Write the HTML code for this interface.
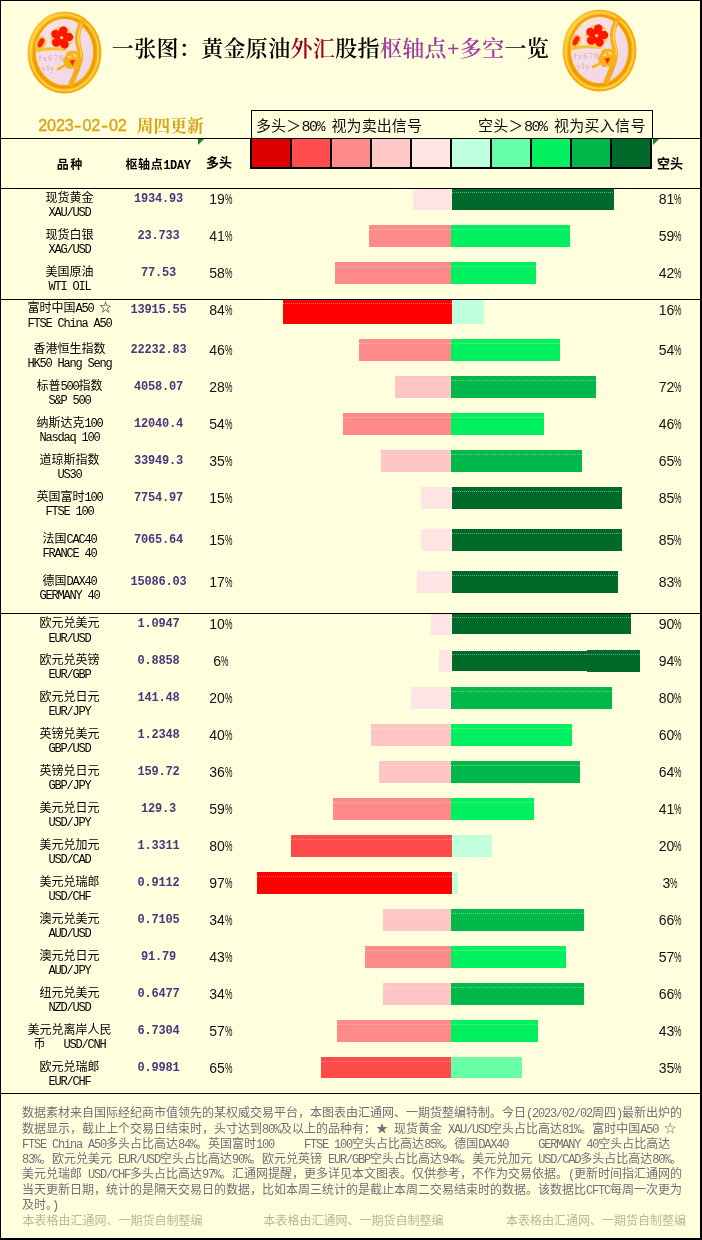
<!DOCTYPE html>
<html lang="zh-CN">
<head>
<meta charset="utf-8">
<title>一张图：黄金原油外汇股指枢轴点+多空一览</title>
<style>
html,body{margin:0;padding:0;}
body{width:702px;height:1240px;overflow:hidden;background:#ffffdd;}
#pg{position:relative;width:702px;height:1240px;background:#ffffdd;overflow:hidden;
 font-family:"Liberation Mono","Noto Sans CJK SC",monospace;font-size:12px;color:#000;}
#pg div{position:absolute;white-space:nowrap;}
.bd{background:#000;}
.hl{left:1px;width:699px;height:1px;background:#000;}
.ttl{left:111.8px;top:32px;height:34px;line-height:34px;font-family:"Liberation Serif","Noto Serif CJK SC",serif;font-weight:600;font-size:22px;letter-spacing:0.34px;color:#000;}
.date{top:113px;height:24px;line-height:24px;color:#d9a214;}
.dd{left:38.2px;top:112.5px;font-size:16.2px;font-family:"Liberation Sans",sans-serif;-webkit-text-stroke:0.35px #d9a214;}
.dd i{font-style:normal;display:inline-block;width:8.85px;text-align:center;}
.dd b{font-weight:normal;display:inline-block;transform:scaleX(1.35);}
.dc{left:136.8px;top:115px;font-size:16.75px;font-weight:700;font-family:"Liberation Serif","Noto Serif CJK SC",serif;}
.lgt{top:117.5px;height:20px;line-height:20px;font-size:15px;font-family:"Liberation Mono","Noto Sans CJK SC",monospace;font-weight:400;color:#111;}
.lgt .l{letter-spacing:-1.5px;}
.lg{top:139px;width:38px;height:28px;}
.hd{top:157px;height:18px;line-height:18px;font-weight:bold;font-size:12px;font-family:"Liberation Mono","Noto Sans CJK SC",monospace;}
.hd .l{letter-spacing:-0.4px;}
.bar{}
.bar i{position:absolute;left:0;right:0;height:1px;background:repeating-linear-gradient(90deg,rgba(255,255,225,.42) 0,rgba(255,255,225,.42) 1px,transparent 1px,transparent 2px);}
.dk i{background:repeating-linear-gradient(90deg,rgba(150,215,215,.6) 0,rgba(150,215,215,.6) 1px,transparent 1px,transparent 2px);}
.nm{left:1px;width:137px;height:15px;line-height:15px;text-align:center;font-size:12px;}
.l{letter-spacing:-1.2px;}
.pv{left:118.5px;width:80px;height:14px;line-height:14px;text-align:center;font-family:"Liberation Mono",monospace;font-weight:bold;font-size:12px;letter-spacing:-0.2px;color:#4d357c;}
.pl,.pr{width:40px;height:16px;line-height:16px;text-align:center;font-family:"Liberation Sans",sans-serif;font-size:14px;color:#111;}
.pc{display:inline-block;width:7.4px;transform:scaleX(.6);transform-origin:0 50%;text-align:left;}
.pl{left:200.8px;}
.pr{left:650.2px;}
.ft{left:22px;height:15px;line-height:15px;font-size:12px;color:#707078;}
.wm{top:1214.5px;height:15px;line-height:15px;font-size:12px;color:#bdb596;}
.tri{width:0;height:0;border-top:6px solid #118822;border-right:6px solid transparent;}
</style>
</head>
<body>
<div id="pg">
<!-- frame -->
<div class="bd" style="left:0;top:0;width:702px;height:1px"></div>
<div class="bd" style="left:0;top:0;width:1px;height:1240px"></div>
<div class="bd" style="left:700px;top:0;width:2px;height:1240px"></div>
<div class="bd" style="left:0;top:1238px;width:702px;height:2px"></div>
<!-- logos -->
<svg style="position:absolute;left:26px;top:10px" width="78" height="86" viewBox="0 0 78 86">
<defs>
<linearGradient id="gLa" x1="0" y1="0" x2="1" y2="1"><stop offset="0" stop-color="#ffd24a"/><stop offset=".45" stop-color="#f7a600"/><stop offset="1" stop-color="#f2b418"/></linearGradient>
<linearGradient id="gLb" x1="0" y1="0" x2="1" y2="1"><stop offset="0" stop-color="#fbe2e3"/><stop offset="1" stop-color="#efd5e6"/></linearGradient>
<filter id="fL" x="-5%" y="-5%" width="110%" height="110%"><feGaussianBlur stdDeviation=".55"/></filter>
</defs>
<g filter="url(#fL)">
<ellipse cx="38.5" cy="42.5" rx="37" ry="41" fill="url(#gLa)"/>
<ellipse cx="38.5" cy="42.5" rx="34" ry="38" fill="none" stroke="#ffd95e" stroke-width="1.6" opacity=".8"/>
<ellipse cx="38.5" cy="42.5" rx="30.6" ry="35" fill="none" stroke="#e88f00" stroke-width="1.6" opacity=".8"/>
<ellipse cx="38.5" cy="42" rx="28.6" ry="33" fill="url(#gLb)"/>
<!-- branches -->
<path d="M56 12 C52.5 19 50.5 26 52 33 C53.5 40 55.5 44 54 50 C52.5 58 48.5 66 45 74" fill="none" stroke="#f4ad14" stroke-width="5.2" stroke-linecap="round"/>
<path d="M54 20 C52 26 52.5 32 54 37 C55.5 42 56 46 54.5 51" fill="none" stroke="#fcd04f" stroke-width="1.6" stroke-linecap="round"/>
<path d="M55.5 14 C53 21 51.5 27 52.5 33" fill="none" stroke="#ffd95e" stroke-width="1.2" stroke-linecap="round"/>
<path d="M11 41 C18 38.5 25 38 39 39.5" fill="none" stroke="#f7c233" stroke-width="3" stroke-linecap="round"/>
<path d="M46 50 C41 54 37 57 32 59" fill="none" stroke="#f5b21a" stroke-width="2.6" stroke-linecap="round"/>
<!-- bud left -->
<ellipse cx="14.5" cy="33" rx="5.2" ry="7" fill="#f9c23a" transform="rotate(28 14.5 33)"/>
<ellipse cx="15" cy="32.8" rx="2.6" ry="5" fill="#ff1a0a" transform="rotate(28 15 32.8)"/>
<!-- main flower -->
<circle cx="35.7" cy="27.7" r="11.4" fill="#fbcf5e" opacity=".95"/>
<circle cx="35.7" cy="27.7" r="9" fill="#fff0d8" opacity=".9"/>
<g fill="#ff1505"><path transform="translate(35.7 27.7) rotate(8)" d="M0 -0.6 C-5 -3.6 -5.4 -10.4 0.6 -11.6 C6.4 -10.8 6 -4.4 1.3 -0.9Z"/><path transform="translate(35.7 27.7) rotate(80)" d="M0 -0.6 C-5 -3.6 -5.4 -10.4 0.6 -11.6 C6.4 -10.8 6 -4.4 1.3 -0.9Z"/><path transform="translate(35.7 27.7) rotate(152)" d="M0 -0.6 C-5 -3.6 -5.4 -10.4 0.6 -11.6 C6.4 -10.8 6 -4.4 1.3 -0.9Z"/><path transform="translate(35.7 27.7) rotate(224)" d="M0 -0.6 C-5 -3.6 -5.4 -10.4 0.6 -11.6 C6.4 -10.8 6 -4.4 1.3 -0.9Z"/><path transform="translate(35.7 27.7) rotate(296)" d="M0 -0.6 C-5 -3.6 -5.4 -10.4 0.6 -11.6 C6.4 -10.8 6 -4.4 1.3 -0.9Z"/></g>
<circle cx="35.7" cy="27.7" r="1.6" fill="#ffd96a"/>
<!-- gold flower -->
<path d="M46.5 41 C50.5 40 54 42.5 53.5 46 C57 48 57 53 53.5 55 C53.5 59 49 60 46.5 58 C43.5 60 39 58.5 39.5 55 C36 52.5 36.5 48 40 46 C39.5 42.5 43.5 40 46.5 41Z" fill="#f6b21a"/>
<path d="M46.5 43.5 C49.5 43 51.5 44.5 51 47 C48.5 47.5 47 46.5 46.5 43.5Z M41.5 47.5 C42.5 45 45 44.5 46 46.5 C45.5 48.5 43.5 49 41.5 47.5Z" fill="#ffd95e"/>
<path d="M43.6 50.6 L49.4 49.8 L46.4 56Z" fill="#ff2a10"/>
</g>
<text x="12.6" y="51.3" font-family="Liberation Serif, serif" font-weight="bold" font-size="9.2" letter-spacing=".9" fill="#d9b3cb" opacity=".85">fx678</text>
<text x="15.4" y="61.2" font-family="Liberation Serif, serif" font-weight="bold" font-size="9.2" letter-spacing=".7" fill="#d9b3cb" opacity=".85">yly</text>
</svg>
<svg style="position:absolute;left:561.3px;top:8px" width="78" height="86" viewBox="0 0 78 86">
<defs>
<linearGradient id="gRa" x1="0" y1="0" x2="1" y2="1"><stop offset="0" stop-color="#ffd24a"/><stop offset=".45" stop-color="#f7a600"/><stop offset="1" stop-color="#f2b418"/></linearGradient>
<linearGradient id="gRb" x1="0" y1="0" x2="1" y2="1"><stop offset="0" stop-color="#fbe2e3"/><stop offset="1" stop-color="#efd5e6"/></linearGradient>
<filter id="fR" x="-5%" y="-5%" width="110%" height="110%"><feGaussianBlur stdDeviation=".55"/></filter>
</defs>
<g filter="url(#fR)">
<ellipse cx="38.5" cy="42.5" rx="37" ry="41" fill="url(#gRa)"/>
<ellipse cx="38.5" cy="42.5" rx="34" ry="38" fill="none" stroke="#ffd95e" stroke-width="1.6" opacity=".8"/>
<ellipse cx="38.5" cy="42.5" rx="30.6" ry="35" fill="none" stroke="#e88f00" stroke-width="1.6" opacity=".8"/>
<ellipse cx="38.5" cy="42" rx="28.6" ry="33" fill="url(#gRb)"/>
<!-- branches -->
<path d="M56 12 C52.5 19 50.5 26 52 33 C53.5 40 55.5 44 54 50 C52.5 58 48.5 66 45 74" fill="none" stroke="#f4ad14" stroke-width="5.2" stroke-linecap="round"/>
<path d="M54 20 C52 26 52.5 32 54 37 C55.5 42 56 46 54.5 51" fill="none" stroke="#fcd04f" stroke-width="1.6" stroke-linecap="round"/>
<path d="M55.5 14 C53 21 51.5 27 52.5 33" fill="none" stroke="#ffd95e" stroke-width="1.2" stroke-linecap="round"/>
<path d="M11 41 C18 38.5 25 38 39 39.5" fill="none" stroke="#f7c233" stroke-width="3" stroke-linecap="round"/>
<path d="M46 50 C41 54 37 57 32 59" fill="none" stroke="#f5b21a" stroke-width="2.6" stroke-linecap="round"/>
<!-- bud left -->
<ellipse cx="14.5" cy="33" rx="5.2" ry="7" fill="#f9c23a" transform="rotate(28 14.5 33)"/>
<ellipse cx="15" cy="32.8" rx="2.6" ry="5" fill="#ff1a0a" transform="rotate(28 15 32.8)"/>
<!-- main flower -->
<circle cx="35.7" cy="27.7" r="11.4" fill="#fbcf5e" opacity=".95"/>
<circle cx="35.7" cy="27.7" r="9" fill="#fff0d8" opacity=".9"/>
<g fill="#ff1505"><path transform="translate(35.7 27.7) rotate(8)" d="M0 -0.6 C-5 -3.6 -5.4 -10.4 0.6 -11.6 C6.4 -10.8 6 -4.4 1.3 -0.9Z"/><path transform="translate(35.7 27.7) rotate(80)" d="M0 -0.6 C-5 -3.6 -5.4 -10.4 0.6 -11.6 C6.4 -10.8 6 -4.4 1.3 -0.9Z"/><path transform="translate(35.7 27.7) rotate(152)" d="M0 -0.6 C-5 -3.6 -5.4 -10.4 0.6 -11.6 C6.4 -10.8 6 -4.4 1.3 -0.9Z"/><path transform="translate(35.7 27.7) rotate(224)" d="M0 -0.6 C-5 -3.6 -5.4 -10.4 0.6 -11.6 C6.4 -10.8 6 -4.4 1.3 -0.9Z"/><path transform="translate(35.7 27.7) rotate(296)" d="M0 -0.6 C-5 -3.6 -5.4 -10.4 0.6 -11.6 C6.4 -10.8 6 -4.4 1.3 -0.9Z"/></g>
<circle cx="35.7" cy="27.7" r="1.6" fill="#ffd96a"/>
<!-- gold flower -->
<path d="M46.5 41 C50.5 40 54 42.5 53.5 46 C57 48 57 53 53.5 55 C53.5 59 49 60 46.5 58 C43.5 60 39 58.5 39.5 55 C36 52.5 36.5 48 40 46 C39.5 42.5 43.5 40 46.5 41Z" fill="#f6b21a"/>
<path d="M46.5 43.5 C49.5 43 51.5 44.5 51 47 C48.5 47.5 47 46.5 46.5 43.5Z M41.5 47.5 C42.5 45 45 44.5 46 46.5 C45.5 48.5 43.5 49 41.5 47.5Z" fill="#ffd95e"/>
<path d="M43.6 50.6 L49.4 49.8 L46.4 56Z" fill="#ff2a10"/>
</g>
<text x="12.6" y="51.3" font-family="Liberation Serif, serif" font-weight="bold" font-size="9.2" letter-spacing=".9" fill="#d9b3cb" opacity=".85">fx678</text>
<text x="15.4" y="61.2" font-family="Liberation Serif, serif" font-weight="bold" font-size="9.2" letter-spacing=".7" fill="#d9b3cb" opacity=".85">yly</text>
</svg>
<!-- title -->
<div class="ttl">一张图：黄金原油<span style="color:#990022">外汇</span>股指<span style="color:#a040a0">枢轴点+多空</span>一览</div>
<!-- date -->
<div class="date dd"><i>2</i><i>0</i><i>2</i><i>3</i><i><b>-</b></i><i>0</i><i>2</i><i><b>-</b></i><i>0</i><i>2</i></div>
<div class="date dc">周四更新</div>
<!-- legend box -->
<div style="left:251px;top:110px;width:400px;height:28px;border:1px solid #000;border-bottom:none;"></div>
<div class="lgt" style="left:256px;letter-spacing:0.12px">多头＞<span class="l">80% </span>视为卖出信号</div>
<div class="lgt" style="left:478px;letter-spacing:0.3px">空头＞<span class="l">80% </span>视为买入信号</div>
<div class="bd" style="left:250px;top:138px;width:402px;height:31px"></div>
<div class="lg" style="left:252px;background:#dd0000"></div>
<div class="lg" style="left:292px;background:#ff4c4c"></div>
<div class="lg" style="left:332px;background:#ff8c8c"></div>
<div class="lg" style="left:372px;background:#ffc8c8"></div>
<div class="lg" style="left:412px;background:#ffe4e4"></div>
<div class="lg" style="left:452px;background:#bfffdf"></div>
<div class="lg" style="left:492px;background:#66ffa8"></div>
<div class="lg" style="left:532px;background:#00f060"></div>
<div class="lg" style="left:572px;background:#00b84a"></div>
<div class="lg" style="left:612px;background:#006a2b"></div>
<!-- lines -->
<div class="hl" style="top:138px"></div>
<div class="hl" style="top:188px"></div>
<div class="hl" style="top:299px"></div>
<div class="hl" style="top:613px"></div>
<div class="hl" style="top:1093px"></div>
<div class="tri" style="left:198px;top:139px"></div>
<div class="tri" style="left:653px;top:139px"></div>
<!-- header -->
<div class="hd" style="left:1px;width:138.5px;text-align:center;letter-spacing:1.5px">品种</div>
<div class="hd" style="left:120px;width:76px;text-align:center;letter-spacing:0.6px">枢轴点<span class="l">1DAY</span></div>
<div class="hd" style="left:199px;width:40px;text-align:center;font-size:13px;top:154.5px">多头</div>
<div class="hd" style="left:650px;width:40px;text-align:center;font-size:13px;top:155.5px">空头</div>
<!-- rows -->
<div class="bar" style="left:413px;top:189px;width:39px;height:21px;background:#ffe4e4"><i style="top:3px"></i></div>
<div class="bar dk" style="left:452px;top:189px;width:162px;height:21px;background:#006a2b"><i style="top:3px"></i></div>
<div class="nm" style="top:191.8px">现货黄金</div>
<div class="nm" style="top:206.3px"><span class="l">XAU/USD</span></div>
<div class="pv" style="top:192.1px">1934.93</div>
<div class="pl" style="top:191.1px">19<span class="pc">%</span></div>
<div class="pr" style="top:191.1px">81<span class="pc">%</span></div>
<div class="bar" style="left:369px;top:225px;width:82px;height:22px;background:#ff8a8a"><i style="top:4px"></i></div>
<div class="bar" style="left:451px;top:225px;width:119px;height:22px;background:#00f060"><i style="top:4px"></i></div>
<div class="nm" style="top:228.7px">现货白银</div>
<div class="nm" style="top:243.2px"><span class="l">XAG/USD</span></div>
<div class="pv" style="top:229.0px">23.733</div>
<div class="pl" style="top:228.0px">41<span class="pc">%</span></div>
<div class="pr" style="top:228.0px">59<span class="pc">%</span></div>
<div class="bar" style="left:335px;top:262px;width:116px;height:22px;background:#ff8a8a"><i style="top:4px"></i></div>
<div class="bar" style="left:451px;top:262px;width:85px;height:22px;background:#00f060"><i style="top:4px"></i></div>
<div class="nm" style="top:265.7px">美国原油</div>
<div class="nm" style="top:280.2px"><span class="l">WTI OIL</span></div>
<div class="pv" style="top:266.0px">77.53</div>
<div class="pl" style="top:265.0px">58<span class="pc">%</span></div>
<div class="pr" style="top:265.0px">42<span class="pc">%</span></div>
<div class="bar" style="left:283px;top:300px;width:169px;height:24px;background:#ff0000"><i style="top:3px"></i></div>
<div class="bar" style="left:452px;top:300px;width:32px;height:24px;background:#bfffdc"><i style="top:3px"></i></div>
<div class="nm" style="top:302.3px">富时中国<span class="l">A50 </span>☆</div>
<div class="nm" style="top:316.8px"><span class="l">FTSE China A50</span></div>
<div class="pv" style="top:302.6px">13915.55</div>
<div class="pl" style="top:301.6px">84<span class="pc">%</span></div>
<div class="pr" style="top:301.6px">16<span class="pc">%</span></div>
<div class="bar" style="left:359px;top:339px;width:92px;height:22px;background:#ff8a8a"><i style="top:4px"></i></div>
<div class="bar" style="left:451px;top:339px;width:109px;height:22px;background:#00f060"><i style="top:4px"></i></div>
<div class="nm" style="top:342.7px">香港恒生指数</div>
<div class="nm" style="top:357.2px"><span class="l">HK50 Hang Seng</span></div>
<div class="pv" style="top:343.0px">22232.83</div>
<div class="pl" style="top:342.0px">46<span class="pc">%</span></div>
<div class="pr" style="top:342.0px">54<span class="pc">%</span></div>
<div class="bar" style="left:395px;top:376px;width:56px;height:22px;background:#ffc4c4"><i style="top:4px"></i></div>
<div class="bar" style="left:451px;top:376px;width:145px;height:22px;background:#00b84a"><i style="top:4px"></i></div>
<div class="nm" style="top:379.7px">标普<span class="l">500</span>指数</div>
<div class="nm" style="top:394.2px"><span class="l">S&amp;P 500</span></div>
<div class="pv" style="top:380.0px">4058.07</div>
<div class="pl" style="top:379.0px">28<span class="pc">%</span></div>
<div class="pr" style="top:379.0px">72<span class="pc">%</span></div>
<div class="bar" style="left:343px;top:413px;width:108px;height:22px;background:#ff8a8a"><i style="top:4px"></i></div>
<div class="bar" style="left:451px;top:413px;width:93px;height:22px;background:#00f060"><i style="top:4px"></i></div>
<div class="nm" style="top:416.7px">纳斯达克<span class="l">100</span></div>
<div class="nm" style="top:431.2px"><span class="l">Nasdaq 100</span></div>
<div class="pv" style="top:417.0px">12040.4</div>
<div class="pl" style="top:416.0px">54<span class="pc">%</span></div>
<div class="pr" style="top:416.0px">46<span class="pc">%</span></div>
<div class="bar" style="left:381px;top:450px;width:70px;height:22px;background:#ffc4c4"><i style="top:4px"></i></div>
<div class="bar" style="left:451px;top:450px;width:131px;height:22px;background:#00b84a"><i style="top:4px"></i></div>
<div class="nm" style="top:453.7px">道琼斯指数</div>
<div class="nm" style="top:468.2px"><span class="l">US30</span></div>
<div class="pv" style="top:454.0px">33949.3</div>
<div class="pl" style="top:453.0px">35<span class="pc">%</span></div>
<div class="pr" style="top:453.0px">65<span class="pc">%</span></div>
<div class="bar" style="left:421px;top:487px;width:31px;height:22px;background:#ffe4e4"><i style="top:4px"></i></div>
<div class="bar dk" style="left:452px;top:487px;width:170px;height:22px;background:#006a2b"><i style="top:4px"></i></div>
<div class="nm" style="top:490.7px">英国富时<span class="l">100</span></div>
<div class="nm" style="top:505.2px"><span class="l">FTSE 100</span></div>
<div class="pv" style="top:491.0px">7754.97</div>
<div class="pl" style="top:490.0px">15<span class="pc">%</span></div>
<div class="pr" style="top:490.0px">85<span class="pc">%</span></div>
<div class="bar" style="left:421px;top:529px;width:31px;height:22px;background:#ffe4e4"><i style="top:4px"></i></div>
<div class="bar dk" style="left:452px;top:529px;width:170px;height:22px;background:#006a2b"><i style="top:4px"></i></div>
<div class="nm" style="top:532.7px">法国<span class="l">CAC40</span></div>
<div class="nm" style="top:547.2px"><span class="l">FRANCE 40</span></div>
<div class="pv" style="top:533.0px">7065.64</div>
<div class="pl" style="top:532.0px">15<span class="pc">%</span></div>
<div class="pr" style="top:532.0px">85<span class="pc">%</span></div>
<div class="bar" style="left:417px;top:571px;width:35px;height:22px;background:#ffe4e4"><i style="top:4px"></i></div>
<div class="bar dk" style="left:452px;top:571px;width:166px;height:22px;background:#006a2b"><i style="top:4px"></i></div>
<div class="nm" style="top:574.7px">德国<span class="l">DAX40</span></div>
<div class="nm" style="top:589.2px"><span class="l">GERMANY 40</span></div>
<div class="pv" style="top:575.0px">15086.03</div>
<div class="pl" style="top:574.0px">17<span class="pc">%</span></div>
<div class="pr" style="top:574.0px">83<span class="pc">%</span></div>
<div class="bar" style="left:431px;top:614px;width:21px;height:21px;background:#ffe4e4"><i style="top:3px"></i></div>
<div class="bar dk" style="left:452px;top:614px;width:179px;height:20px;background:#006a2b"><i style="top:3px"></i></div>
<div class="nm" style="top:617.1px">欧元兑美元</div>
<div class="nm" style="top:631.6px"><span class="l">EUR/USD</span></div>
<div class="pv" style="top:617.4px">1.0947</div>
<div class="pl" style="top:616.4px">10<span class="pc">%</span></div>
<div class="pr" style="top:616.4px">90<span class="pc">%</span></div>
<div class="bar" style="left:439px;top:650px;width:13px;height:22px;background:#ffe4e4"><i style="top:4px"></i></div>
<div class="bar dk" style="left:452px;top:651px;width:188px;height:20px;background:#006a2b"><i style="top:3px"></i></div>
<div class="bar dk" style="left:587px;top:650px;width:53px;height:22px;background:#006a2b"><i style="top:4px"></i></div>
<div class="nm" style="top:653.7px">欧元兑英镑</div>
<div class="nm" style="top:668.2px"><span class="l">EUR/GBP</span></div>
<div class="pv" style="top:654.0px">0.8858</div>
<div class="pl" style="top:653.0px">6<span class="pc">%</span></div>
<div class="pr" style="top:653.0px">94<span class="pc">%</span></div>
<div class="bar" style="left:411px;top:687px;width:40px;height:22px;background:#ffe4e4"><i style="top:4px"></i></div>
<div class="bar" style="left:451px;top:687px;width:161px;height:22px;background:#00b84a"><i style="top:4px"></i></div>
<div class="nm" style="top:690.7px">欧元兑日元</div>
<div class="nm" style="top:705.2px"><span class="l">EUR/JPY</span></div>
<div class="pv" style="top:691.0px">141.48</div>
<div class="pl" style="top:690.0px">20<span class="pc">%</span></div>
<div class="pr" style="top:690.0px">80<span class="pc">%</span></div>
<div class="bar" style="left:371px;top:724px;width:80px;height:22px;background:#ffc4c4"><i style="top:4px"></i></div>
<div class="bar" style="left:451px;top:724px;width:121px;height:22px;background:#00f060"><i style="top:4px"></i></div>
<div class="nm" style="top:727.7px">英镑兑美元</div>
<div class="nm" style="top:742.2px"><span class="l">GBP/USD</span></div>
<div class="pv" style="top:728.0px">1.2348</div>
<div class="pl" style="top:727.0px">40<span class="pc">%</span></div>
<div class="pr" style="top:727.0px">60<span class="pc">%</span></div>
<div class="bar" style="left:379px;top:761px;width:72px;height:22px;background:#ffc4c4"><i style="top:4px"></i></div>
<div class="bar" style="left:451px;top:761px;width:129px;height:22px;background:#00b84a"><i style="top:4px"></i></div>
<div class="nm" style="top:764.7px">英镑兑日元</div>
<div class="nm" style="top:779.2px"><span class="l">GBP/JPY</span></div>
<div class="pv" style="top:765.0px">159.72</div>
<div class="pl" style="top:764.0px">36<span class="pc">%</span></div>
<div class="pr" style="top:764.0px">64<span class="pc">%</span></div>
<div class="bar" style="left:333px;top:798px;width:118px;height:22px;background:#ff8a8a"><i style="top:4px"></i></div>
<div class="bar" style="left:451px;top:798px;width:83px;height:22px;background:#00f060"><i style="top:4px"></i></div>
<div class="nm" style="top:801.7px">美元兑日元</div>
<div class="nm" style="top:816.2px"><span class="l">USD/JPY</span></div>
<div class="pv" style="top:802.0px">129.3</div>
<div class="pl" style="top:801.0px">59<span class="pc">%</span></div>
<div class="pr" style="top:801.0px">41<span class="pc">%</span></div>
<div class="bar" style="left:291px;top:835px;width:161px;height:22px;background:#ff4a4a"><i style="top:4px"></i></div>
<div class="bar" style="left:452px;top:835px;width:40px;height:22px;background:#bfffdc"><i style="top:4px"></i></div>
<div class="nm" style="top:838.7px">美元兑加元</div>
<div class="nm" style="top:853.2px"><span class="l">USD/CAD</span></div>
<div class="pv" style="top:839.0px">1.3311</div>
<div class="pl" style="top:838.0px">80<span class="pc">%</span></div>
<div class="pr" style="top:838.0px">20<span class="pc">%</span></div>
<div class="bar" style="left:257px;top:872px;width:195px;height:22px;background:#ff0000"><i style="top:4px"></i></div>
<div class="bar" style="left:452px;top:872px;width:6px;height:22px;background:#bfffdc"><i style="top:4px"></i></div>
<div class="nm" style="top:875.7px">美元兑瑞郎</div>
<div class="nm" style="top:890.2px"><span class="l">USD/CHF</span></div>
<div class="pv" style="top:876.0px">0.9112</div>
<div class="pl" style="top:875.0px">97<span class="pc">%</span></div>
<div class="pr" style="top:875.0px">3<span class="pc">%</span></div>
<div class="bar" style="left:383px;top:909px;width:68px;height:22px;background:#ffc4c4"><i style="top:4px"></i></div>
<div class="bar" style="left:451px;top:909px;width:133px;height:22px;background:#00b84a"><i style="top:4px"></i></div>
<div class="nm" style="top:912.7px">澳元兑美元</div>
<div class="nm" style="top:927.2px"><span class="l">AUD/USD</span></div>
<div class="pv" style="top:913.0px">0.7105</div>
<div class="pl" style="top:912.0px">34<span class="pc">%</span></div>
<div class="pr" style="top:912.0px">66<span class="pc">%</span></div>
<div class="bar" style="left:365px;top:946px;width:86px;height:22px;background:#ff8a8a"><i style="top:4px"></i></div>
<div class="bar" style="left:451px;top:946px;width:115px;height:22px;background:#00f060"><i style="top:4px"></i></div>
<div class="nm" style="top:949.7px">澳元兑日元</div>
<div class="nm" style="top:964.2px"><span class="l">AUD/JPY</span></div>
<div class="pv" style="top:950.0px">91.79</div>
<div class="pl" style="top:949.0px">43<span class="pc">%</span></div>
<div class="pr" style="top:949.0px">57<span class="pc">%</span></div>
<div class="bar" style="left:383px;top:983px;width:68px;height:22px;background:#ffc4c4"><i style="top:4px"></i></div>
<div class="bar" style="left:451px;top:983px;width:133px;height:22px;background:#00b84a"><i style="top:4px"></i></div>
<div class="nm" style="top:986.7px">纽元兑美元</div>
<div class="nm" style="top:1001.2px"><span class="l">NZD/USD</span></div>
<div class="pv" style="top:987.0px">0.6477</div>
<div class="pl" style="top:986.0px">34<span class="pc">%</span></div>
<div class="pr" style="top:986.0px">66<span class="pc">%</span></div>
<div class="bar" style="left:337px;top:1020px;width:114px;height:22px;background:#ff8a8a"><i style="top:4px"></i></div>
<div class="bar" style="left:451px;top:1020px;width:87px;height:22px;background:#00f060"><i style="top:4px"></i></div>
<div class="nm" style="top:1023.7px">美元兑离岸人民</div>
<div class="nm" style="top:1038.2px">币<span class="l">&nbsp;&nbsp;&nbsp;USD/CNH</span></div>
<div class="pv" style="top:1024.0px">6.7304</div>
<div class="pl" style="top:1023.0px">57<span class="pc">%</span></div>
<div class="pr" style="top:1023.0px">43<span class="pc">%</span></div>
<div class="bar" style="left:321px;top:1057px;width:130px;height:21px;background:#ff4a4a"><i style="top:4px"></i></div>
<div class="bar" style="left:451px;top:1057px;width:71px;height:21px;background:#66ffa6"><i style="top:4px"></i></div>
<div class="nm" style="top:1060.7px">欧元兑瑞郎</div>
<div class="nm" style="top:1075.2px"><span class="l">EUR/CHF</span></div>
<div class="pv" style="top:1061.0px">0.9981</div>
<div class="pl" style="top:1060.0px">65<span class="pc">%</span></div>
<div class="pr" style="top:1060.0px">35<span class="pc">%</span></div>
<!-- footer -->
<div class="ft" style="top:1107.4px">数据素材来自国际经纪商市值领先的某权威交易平台，本图表由汇通网、一期货整编特制。今日<span class="l">(2023/02/02</span>周四<span class="l">)</span>最新出炉的</div>
<div class="ft" style="top:1122.8px">数据显示，截止上个交易日结束时，头寸达到<span class="l">80%</span>及以上的品种有：★<span class="l"> </span>现货黄金<span class="l"> XAU/USD</span>空头占比高达<span class="l">81%</span>。富时中国<span class="l">A50 </span>☆</div>
<div class="ft" style="top:1138.0px"><span class="l">FTSE China A50</span>多头占比高达<span class="l">84%</span>。英国富时<span class="l">100&nbsp;&nbsp;&nbsp;&nbsp;&nbsp;FTSE 100</span>空头占比高达<span class="l">85%</span>。德国<span class="l">DAX40&nbsp;&nbsp;&nbsp;&nbsp;&nbsp;GERMANY 40</span>空头占比高达</div>
<div class="ft" style="top:1153.2px"><span class="l">83%</span>。欧元兑美元<span class="l"> EUR/USD</span>空头占比高达<span class="l">90%</span>。欧元兑英镑<span class="l"> EUR/GBP</span>空头占比高达<span class="l">94%</span>。美元兑加元<span class="l"> USD/CAD</span>多头占比高达<span class="l">80%</span>。</div>
<div class="ft" style="top:1168.4px">美元兑瑞郎<span class="l"> USD/CHF</span>多头占比高达<span class="l">97%</span>。汇通网提醒，更多详见本文图表。仅供参考，不作为交易依据。<span class="l">(</span>更新时间指汇通网的</div>
<div class="ft" style="top:1183.8px">当天更新日期，统计的是隔天交易日的数据，比如本周三统计的是截止本周二交易结束时的数据。该数据比<span class="l">CFTC</span>每周一次更为</div>
<div class="ft" style="top:1199.0px">及时。<span class="l">)</span></div>
<div class="wm" style="left:22.5px">本表格由汇通网、一期货自制整编</div>
<div class="wm" style="left:263.5px">本表格由汇通网、一期货自制整编</div>
<div class="wm" style="left:506px">本表格由汇通网、一期货自制整编</div>
</div>
</body>
</html>
